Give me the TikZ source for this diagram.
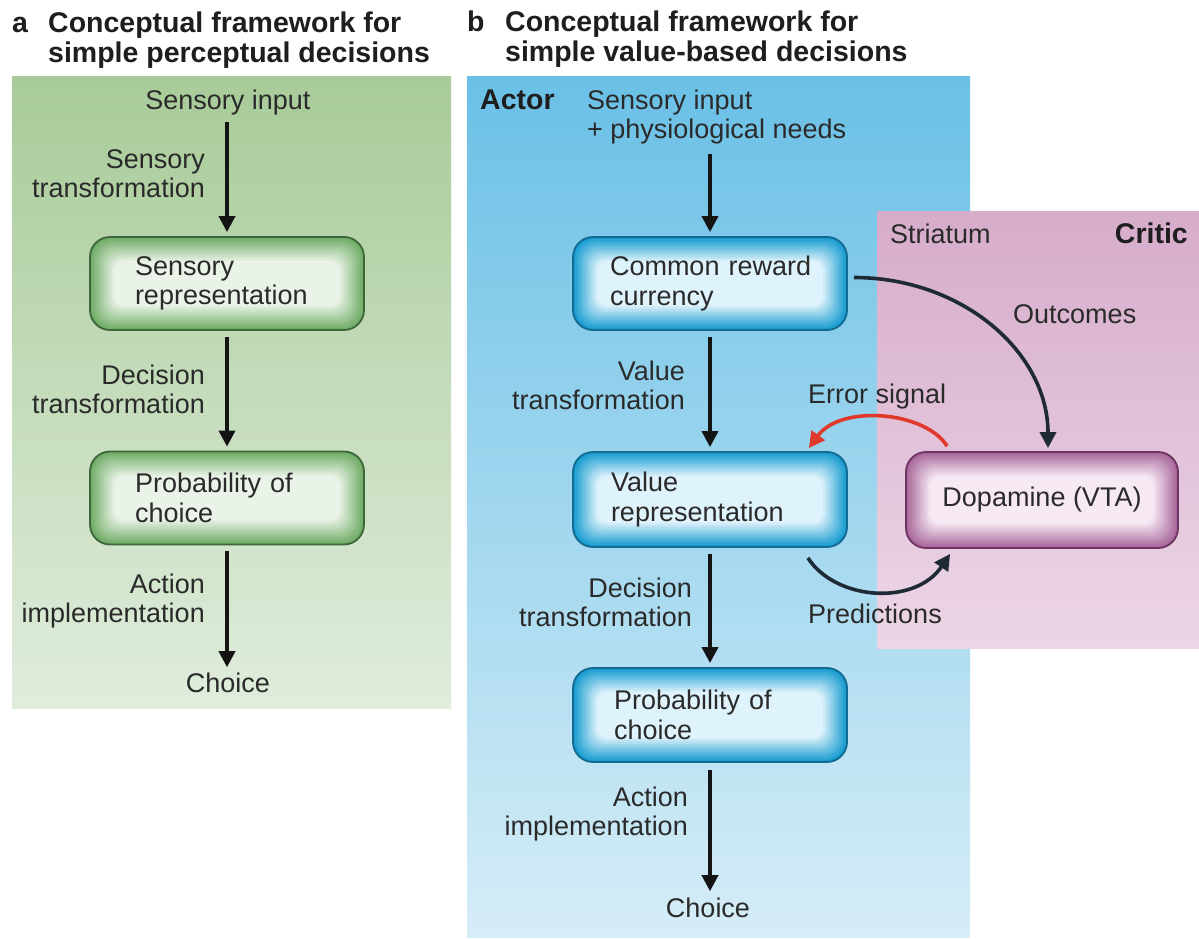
\documentclass[tikz,border=0pt]{standalone}
\usepackage{fontspec}
\setmainfont{Liberation Sans}
\usetikzlibrary{arrows.meta,calc}
\definecolor{txt}{HTML}{2A2A2A}
\definecolor{ttlc}{HTML}{1E1E1E}
\definecolor{arrc}{HTML}{141414}
\definecolor{curvc}{HTML}{1E2A36}
\definecolor{redc}{HTML}{E0392C}
\definecolor{gtop}{HTML}{A8CB99}
\definecolor{gbot}{HTML}{E0EDDC}
\definecolor{btop}{HTML}{6AC0E6}
\definecolor{bbot}{HTML}{D6EDF7}
\definecolor{ptop}{HTML}{D6ACCB}
\definecolor{pbot}{HTML}{ECD6E6}
\definecolor{gedge}{HTML}{6FAC65}
\definecolor{gcent}{HTML}{EAF3E7}
\definecolor{gline}{HTML}{3E663A}
\definecolor{bedge}{HTML}{169BCF}
\definecolor{bcent}{HTML}{DFF3FC}
\definecolor{bline}{HTML}{146A90}
\definecolor{pedge}{HTML}{A8669B}
\definecolor{pcent}{HTML}{F6E9F3}
\definecolor{pline}{HTML}{6E3363}
\tikzset{
  lbl/.style={font=\fontsize{27}{29}\selectfont, text=txt, inner sep=0pt},
  ttl/.style={font=\bfseries\fontsize{28.5}{31}\selectfont, text=ttlc, inner sep=0pt},
  arr/.style={draw=arrc, line width=3.6pt, -{Triangle[width=16pt,length=16pt]}},
  carr/.style={draw=#1, line width=3.6pt, -{Triangle[width=16pt,length=16pt]}},
  glowbox/.style n args={3}{rectangle, rounded corners=20pt, draw=#1, line width=1.8pt,
    fill=#2, minimum width=274pt, minimum height=93pt,
    font=\fontsize{27}{29.5}\selectfont, text=txt, align=left,
    path picture={
      \foreach \d [evaluate=\d as \p using {int(100*(1-\d/24))},
                   evaluate=\d as \r using {max(20-\d*0.4,10)}] in {0,2,...,24} {
        \fill[rounded corners=\r, #2!\p!#3]
          ([shift={(\d,\d)}]path picture bounding box.north west) rectangle
          ([shift={(-\d,-\d)}]path picture bounding box.south east);
      }
    }},
}
\begin{document}
\begin{tikzpicture}[x=1pt,y=-1pt]
\useasboundingbox (0,0) rectangle (1199,939);
\fill[white] (0,0) rectangle (1199,939);
% backgrounds
\shade[top color=gtop,bottom color=gbot] (12,77) rectangle (451,708);
\shade[top color=btop,bottom color=bbot] (467,77) rectangle (970,937);
\shade[top color=ptop,bottom color=pbot] (877,211) rectangle (1199,648);

% ---- panel a ----
\node[ttl, anchor=base west] (la) at (12,33) {a};
\node[ttl, anchor=base west] (ta1) at (48,33) {Conceptual framework for};
\node[ttl, anchor=base west] (ta2) at (48,63) {simple perceptual decisions};

\node[lbl, anchor=base] (asin) at (228,110) {Sensory input};
\node[glowbox={gline}{gedge}{gcent}, text width=184pt] (asr) at (227,283.5) {\mbox{Sensory}\\\mbox{representation}};
\node[glowbox={gline}{gedge}{gcent}, text width=184pt] (apc) at (227,498) {\mbox{Probability of}\\\mbox{choice}};
\node[lbl, anchor=base] (ach) at (228,692) {Choice};

\node[lbl, anchor=east, align=right] (ast) at (205,174) {Sensory\\transformation};
\node[lbl, anchor=east, align=right] (adt) at (205,389) {Decision\\transformation};
\node[lbl, anchor=east, align=right] (aai) at (205,601) {Action\\implementation};

\draw[arr, shorten <=6pt, shorten >=4pt] (asin.south -| asr.north) -- (asr.north);
\draw[arr, shorten <=6pt, shorten >=4pt] (asr.south) -- (apc.north);
\draw[arr, shorten <=6pt, shorten >=5pt] (apc.south) -- (ach.north -| apc.south);

% ---- panel b ----
\node[ttl, anchor=base west] (lb) at (467,32) {b};
\node[ttl, anchor=base west] (tb1) at (505,32) {Conceptual framework for};
\node[ttl, anchor=base west] (tb2) at (505,62) {simple value-based decisions};

\node[ttl, anchor=base west] (actor) at (480,110) {Actor};
\node[lbl, anchor=west, align=left] (bsin) at (587,117) {Sensory input\\+ physiological needs};

\node[glowbox={bline}{bedge}{bcent}, text width=200pt] (crc) at (710,283.5) {\mbox{Common reward}\\\mbox{currency}};
\node[glowbox={bline}{bedge}{bcent}, text width=198pt, minimum height=95pt] (vr) at (710,499.5) {\mbox{Value}\\\mbox{representation}};
\node[glowbox={bline}{bedge}{bcent}, text width=192pt, minimum height=94pt] (bpc) at (710,715) {\mbox{Probability of}\\\mbox{choice}};
\node[lbl, anchor=base] (bch) at (708,917) {Choice};

\node[lbl, anchor=east, align=right] (bvt) at (685,385) {Value\\transformation};
\node[lbl, anchor=east, align=right] (bdt) at (692,602) {Decision\\transformation};
\node[lbl, anchor=east, align=right] (bai) at (688,814) {Action\\implementation};

\draw[arr, shorten <=10pt, shorten >=4pt] (bsin.south -| crc.north) -- (crc.north);
\draw[arr, shorten <=6pt, shorten >=4pt] (crc.south) -- (vr.north);
\draw[arr, shorten <=6pt, shorten >=4pt] (vr.south) -- (bpc.north);
\draw[arr, shorten <=7pt, shorten >=6pt] (bpc.south) -- (bch.north -| bpc.south);

% ---- critic ----
\node[lbl, anchor=base west] (str) at (890,243) {Striatum};
\node[ttl, anchor=base east] (critic) at (1188,243) {Critic};
\node[glowbox={pline}{pedge}{pcent}, minimum width=272pt, minimum height=96pt, align=center] (dopa) at (1042,500) {Dopamine (VTA)};

\node[lbl, anchor=base west] (outc) at (1013,323) {Outcomes};
\node[lbl, anchor=base west] (errs) at (808,403) {Error signal};
\node[lbl, anchor=base west] (pred) at (808,623) {Predictions};

\draw[carr=curvc] ($(crc.east)+(6,-6)$) .. controls +(108,0) and +(0,-96) .. ($(dopa.north)+(6,-3)$);
\draw[carr=redc] ($(dopa.north west)+(42,-5)$) .. controls +(-22,-35) and +(32,-44) .. ($(vr.north east)+(-39,-3)$);
\draw[carr=curvc] ($(vr.south east)+(-40,10)$) .. controls +(28,43) and +(-35,52) .. ($(dopa.south west)+(45,5)$);
\end{tikzpicture}
\end{document}
